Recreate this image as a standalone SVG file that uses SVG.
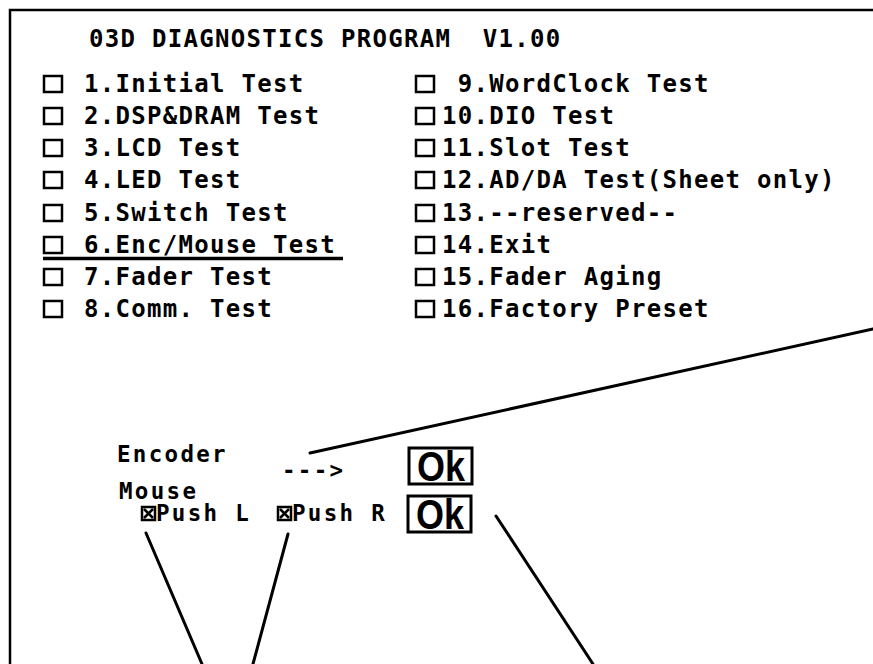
<svg xmlns="http://www.w3.org/2000/svg" width="873" height="664" viewBox="0 0 873 664">
<style>
.t{font-family:"DejaVu Sans Mono","Liberation Mono",monospace;font-weight:bold;font-size:24px;letter-spacing:1.3px;fill:#000;white-space:pre}
.s{font-family:"DejaVu Sans Mono","Liberation Mono",monospace;font-weight:bold;font-size:22.5px;letter-spacing:2.3px;fill:#000;white-space:pre}
.ok{font-family:"Liberation Sans","DejaVu Sans",sans-serif;font-weight:bold;font-size:42px;fill:#000;text-anchor:middle}
.cb{fill:none;stroke:#000;stroke-width:2.5}
.ln{stroke:#000;stroke-width:3;fill:none;stroke-linecap:round}
</style>
<rect width="873" height="664" fill="#fff"/>
<g id="frame">
<path d="M10,664 V10 H873" fill="none" stroke="#000" stroke-width="2.5"/>
</g>
<g id="title">
<text class="t" x="89" y="47">03D DIAGNOSTICS PROGRAM  V1.00</text>
</g>
<g id="menu-left">
<rect class="cb" x="44" y="76" width="18" height="16"/><text class="t" x="84" y="92">1.Initial Test</text>
<rect class="cb" x="44" y="108" width="18" height="16"/><text class="t" x="84" y="124">2.DSP&amp;DRAM Test</text>
<rect class="cb" x="44" y="140" width="18" height="16"/><text class="t" x="84" y="156">3.LCD Test</text>
<rect class="cb" x="44" y="172" width="18" height="16"/><text class="t" x="84" y="188">4.LED Test</text>
<rect class="cb" x="44" y="205" width="18" height="16"/><text class="t" x="84" y="221">5.Switch Test</text>
<rect class="cb" x="44" y="237" width="18" height="16"/><text class="t" x="84" y="253">6.Enc/Mouse Test</text>
<line x1="43" y1="258.5" x2="343" y2="258.5" stroke="#000" stroke-width="3.5"/>
<rect class="cb" x="44" y="269" width="18" height="16"/><text class="t" x="84" y="285">7.Fader Test</text>
<rect class="cb" x="44" y="301" width="18" height="16"/><text class="t" x="84" y="317">8.Comm. Test</text>
</g>
<g id="menu-right">
<rect class="cb" x="416" y="76" width="18" height="16"/><text class="t" x="442" y="92"> 9.WordClock Test</text>
<rect class="cb" x="416" y="108" width="18" height="16"/><text class="t" x="442" y="124">10.DIO Test</text>
<rect class="cb" x="416" y="140" width="18" height="16"/><text class="t" x="442" y="156">11.Slot Test</text>
<rect class="cb" x="416" y="172" width="18" height="16"/><text class="t" x="442" y="188">12.AD/DA Test(Sheet only)</text>
<rect class="cb" x="416" y="205" width="18" height="16"/><text class="t" x="442" y="221">13.--reserved--</text>
<rect class="cb" x="416" y="237" width="18" height="16"/><text class="t" x="442" y="253">14.Exit</text>
<rect class="cb" x="416" y="269" width="18" height="16"/><text class="t" x="442" y="285">15.Fader Aging</text>
<rect class="cb" x="416" y="301" width="18" height="16"/><text class="t" x="442" y="317">16.Factory Preset</text>
</g>
<g id="encoder">
<text class="s" x="117" y="462">Encoder</text>
<text class="s" x="282" y="478">---&gt;</text>
<rect x="409" y="448" width="63" height="36" fill="none" stroke="#000" stroke-width="3"/>
<text class="ok" x="441" y="481" textLength="48" lengthAdjust="spacingAndGlyphs">Ok</text>
</g>
<g id="mouse">
<text class="s" x="119" y="499">Mouse</text>
<rect x="142" y="507" width="13" height="13" fill="none" stroke="#000" stroke-width="2.5"/>
<path d="M144,509 L153,518 M153,509 L144,518" stroke="#000" stroke-width="2.5"/>
<text class="s" x="156" y="521">Push L</text>
<rect x="278" y="507" width="13" height="13" fill="none" stroke="#000" stroke-width="2.5"/>
<path d="M280,509 L289,518 M289,509 L280,518" stroke="#000" stroke-width="2.5"/>
<text class="s" x="292" y="521">Push R</text>
<rect x="408" y="496" width="63" height="36" fill="none" stroke="#000" stroke-width="3"/>
<text class="ok" x="440" y="529" textLength="48" lengthAdjust="spacingAndGlyphs">Ok</text>
</g>
<g id="connectors">
<line class="ln" x1="310" y1="453" x2="873" y2="329"/>
<line class="ln" x1="146" y1="533" x2="202" y2="664"/>
<line class="ln" x1="288" y1="534" x2="253" y2="664"/>
<line class="ln" x1="496" y1="516" x2="593" y2="664"/>
</g>
</svg>
